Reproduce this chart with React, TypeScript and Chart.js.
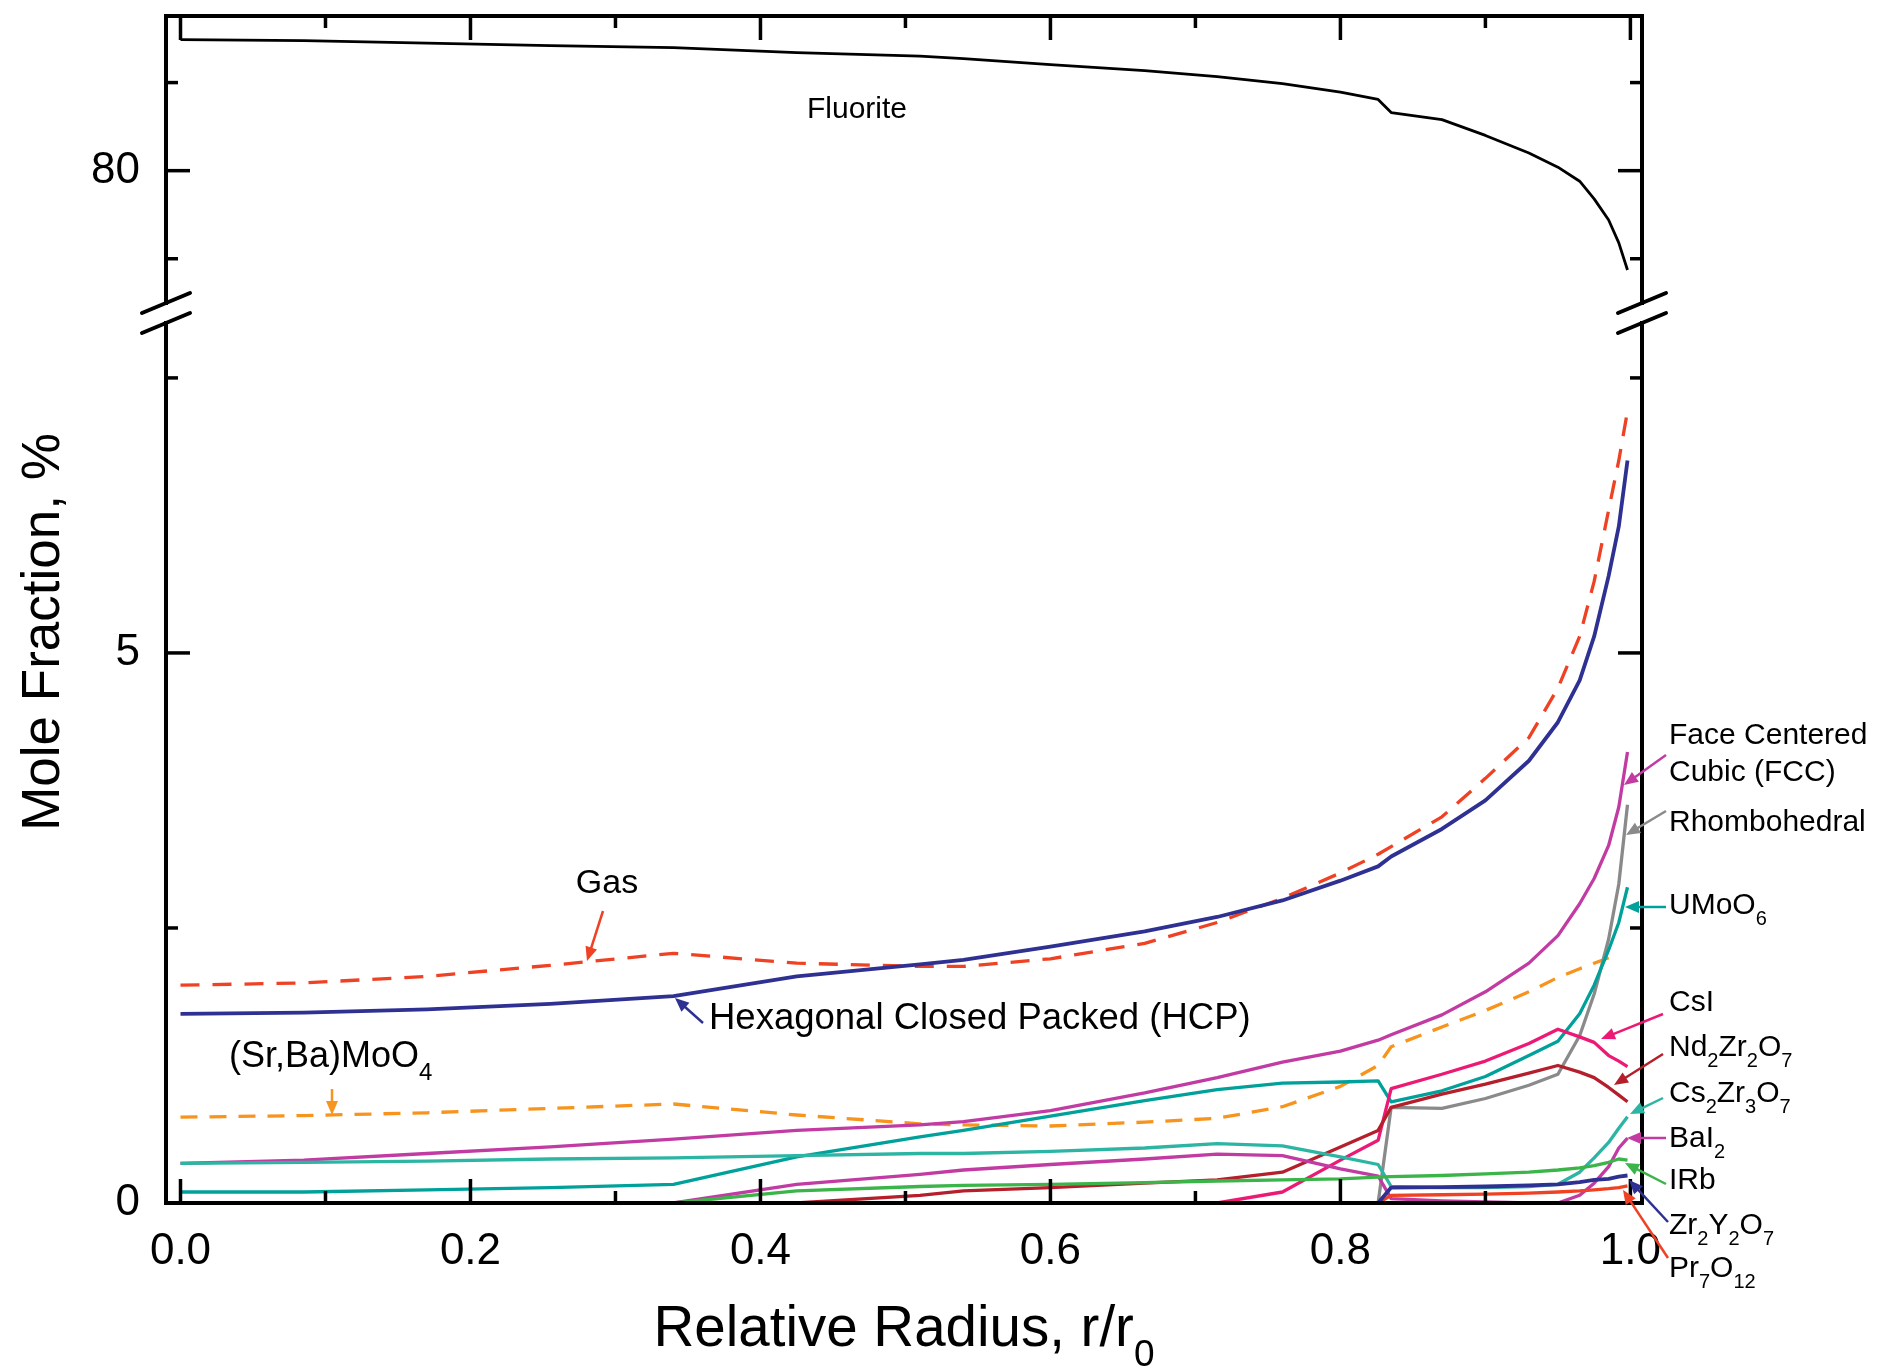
import React, { useEffect, useRef } from 'react';
import { Chart, registerables } from 'chart.js';

Chart.register(...registerables);

// ---------- data ----------
const radius = [0, 0.085, 0.17, 0.255, 0.34, 0.425, 0.51, 0.54, 0.6, 0.665, 0.715, 0.76, 0.8, 0.826, 0.835, 0.87, 0.9, 0.93, 0.95, 0.965, 0.975, 0.985, 0.992, 0.998];

const fluorite = [83.72, 83.69, 83.62, 83.55, 83.49, 83.35, 83.25, 83.18, 83.01, 82.84, 82.67, 82.47, 82.23, 82.02, 81.65, 81.45, 81.0, 80.5, 80.1, 79.7, 79.2, 78.6, 77.95, 77.18];
const hcp = [1.72, 1.73, 1.76, 1.81, 1.88, 2.06, 2.17, 2.21, 2.33, 2.47, 2.6, 2.75, 2.93, 3.06, 3.15, 3.4, 3.66, 4.02, 4.37, 4.75, 5.15, 5.7, 6.15, 6.75];
const gas = [1.98, 2.0, 2.06, 2.16, 2.27, 2.18, 2.15, 2.15, 2.22, 2.36, 2.55, 2.77, 3.0, 3.17, 3.24, 3.51, 3.86, 4.23, 4.68, 5.15, 5.65, 6.3, 6.75, 7.2];
const srBaMoO4 = [0.78, 0.795, 0.82, 0.86, 0.9, 0.8, 0.72, 0.71, 0.7, 0.735, 0.77, 0.875, 1.06, 1.25, 1.42, 1.6, 1.75, 1.92, 2.05, 2.13, 2.18, 2.23, null, null];
const fcc = [0.36, 0.39, 0.45, 0.51, 0.58, 0.66, 0.71, 0.74, 0.84, 1.0, 1.14, 1.28, 1.38, 1.48, 1.53, 1.71, 1.92, 2.18, 2.43, 2.72, 2.95, 3.25, 3.6, 4.1];
const rhombohedral = [0, 0, 0, 0, 0, 0, 0, 0, 0, 0, 0, 0, 0, 0, 0.87, 0.86, 0.95, 1.07, 1.17, 1.52, 1.9, 2.4, 2.9, 3.62];
const uMoO6 = [0.1, 0.1, 0.12, 0.14, 0.17, 0.42, 0.6, 0.66, 0.79, 0.93, 1.03, 1.09, 1.1, 1.11, 0.92, 1.02, 1.15, 1.34, 1.47, 1.72, 1.98, 2.3, 2.55, 2.87];
const cs2Zr3O7 = [0.36, 0.37, 0.38, 0.4, 0.41, 0.43, 0.45, 0.45, 0.47, 0.5, 0.54, 0.52, 0.42, 0.35, 0.15, 0.14, 0.14, 0.15, 0.17, 0.28, 0.41, 0.55, 0.68, 0.785];
const baI2 = [0, 0, 0, 0, 0, 0.17, 0.26, 0.3, 0.35, 0.4, 0.445, 0.43, 0.31, 0.245, 0.04, 0.02, 0.01, 0, 0, 0.07, 0.18, 0.33, 0.5, 0.59];
const iRb = [0, 0, 0, 0, 0, 0.11, 0.15, 0.16, 0.17, 0.185, 0.2, 0.21, 0.22, 0.235, 0.24, 0.25, 0.265, 0.28, 0.3, 0.32, 0.34, 0.37, 0.4, 0.39];
const nd2Zr2O7 = [0, 0, 0, 0, 0, 0, 0.07, 0.11, 0.14, 0.18, 0.21, 0.28, 0.51, 0.66, 0.87, 0.99, 1.08, 1.18, 1.25, 1.19, 1.14, 1.05, 0.98, 0.92];
const csI = [0, 0, 0, 0, 0, 0, 0, 0, 0, 0, 0, 0.1, 0.39, 0.57, 1.04, 1.17, 1.29, 1.45, 1.58, 1.51, 1.46, 1.34, 1.29, 1.24];
const zr2Y2O7 = [0, 0, 0, 0, 0, 0, 0, 0, 0, 0, 0, 0, 0, 0, 0.14, 0.145, 0.15, 0.16, 0.17, 0.19, 0.21, 0.22, 0.24, 0.25];
const pr7O12 = [0, 0, 0, 0, 0, 0, 0, 0, 0, 0, 0, 0, 0, 0, 0.07, 0.075, 0.08, 0.09, 0.1, 0.11, 0.12, 0.13, 0.14, 0.155];

const xTickLabels = ['0.0', '0.2', '0.4', '0.6', '0.8', '1.0'];
const yTickLabels = ['0', '5', '80'];

// ---------- styles ----------
const FONT = "'Liberation Sans', Arial, Helvetica, sans-serif";
const C = {
  navy: '#2e3192',
  red: '#ef4123',
  orange: '#f7941d',
  magenta: '#c13ba3',
  gray: '#8a8a8a',
  teal: '#00a19a',
  lteal: '#2cb5a3',
  pink: '#ec1a75',
  dred: '#b41f2b',
  green: '#3bb449',
};

const pts = (ys: (number | null)[]) => radius.map((x, i) => ({ x, y: ys[i] }));

function drawRich(ctx: CanvasRenderingContext2D, text: string, x: number, y: number, size: number, align: 'left' | 'center' = 'left', color = '#000') {
  const runs: { t: string; sub: boolean }[] = [];
  const re = /(\d+)|([^\d]+)/g;
  let m: RegExpExecArray | null;
  while ((m = re.exec(text))) runs.push({ t: m[0], sub: !!m[1] });
  const subSize = Math.round(size * 0.66);
  let total = 0;
  for (const r of runs) {
    ctx.font = `${r.sub ? subSize : size}px ${FONT}`;
    total += ctx.measureText(r.t).width;
  }
  let cx = align === 'center' ? x - total / 2 : x;
  ctx.fillStyle = color;
  ctx.textAlign = 'left';
  ctx.textBaseline = 'middle';
  for (const r of runs) {
    ctx.font = `${r.sub ? subSize : size}px ${FONT}`;
    ctx.fillText(r.t, cx, r.sub ? y + size * 0.45 : y);
    cx += ctx.measureText(r.t).width;
  }
}

function arrow(ctx: CanvasRenderingContext2D, x1: number, y1: number, x2: number, y2: number, color: string) {
  const ang = Math.atan2(y2 - y1, x2 - x1);
  const hl = 14, hw = 6;
  ctx.strokeStyle = color;
  ctx.fillStyle = color;
  ctx.lineWidth = 2.5;
  ctx.beginPath();
  ctx.moveTo(x1, y1);
  ctx.lineTo(x2 - Math.cos(ang) * hl * 0.8, y2 - Math.sin(ang) * hl * 0.8);
  ctx.stroke();
  ctx.beginPath();
  ctx.moveTo(x2, y2);
  ctx.lineTo(x2 - Math.cos(ang) * hl + Math.sin(ang) * hw, y2 - Math.sin(ang) * hl - Math.cos(ang) * hw);
  ctx.lineTo(x2 - Math.cos(ang) * hl - Math.sin(ang) * hw, y2 - Math.sin(ang) * hl + Math.cos(ang) * hw);
  ctx.closePath();
  ctx.fill();
}

const labels: [string, number, number, number, 'left' | 'center'][] = [
  ['Fluorite', 857, 110, 30, 'center'],
  ['Gas', 607, 884, 34, 'center'],
  ['Hexagonal Closed Packed (HCP)', 709, 1019, 36.5, 'left'],
  ['(Sr,Ba)MoO4', 229, 1057, 36, 'left'],
  ['Face Centered', 1669, 736, 30, 'left'],
  ['Cubic (FCC)', 1669, 773, 30, 'left'],
  ['Rhombohedral', 1669, 823, 30, 'left'],
  ['UMoO6', 1669, 906, 30, 'left'],
  ['CsI', 1669, 1003, 30, 'left'],
  ['Nd2Zr2O7', 1669, 1048, 30, 'left'],
  ['Cs2Zr3O7', 1669, 1094, 30, 'left'],
  ['BaI2', 1669, 1139, 30, 'left'],
  ['IRb', 1669, 1181, 30, 'left'],
  ['Zr2Y2O7', 1669, 1226, 30, 'left'],
  ['Pr7O12', 1669, 1269, 30, 'left'],
];

const arrows: [string, number, number, number, number][] = [
  [C.magenta, 1666, 755, 1624, 785],
  [C.gray, 1666, 811, 1626, 835],
  [C.teal, 1666, 907, 1625, 907],
  [C.pink, 1663, 1014, 1601, 1039],
  [C.dred, 1663, 1054, 1614, 1085],
  [C.lteal, 1663, 1098, 1630, 1114],
  [C.magenta, 1666, 1138, 1627, 1138],
  [C.green, 1666, 1184, 1625, 1163],
  [C.navy, 1668, 1222, 1629, 1180],
  [C.red, 1668, 1258, 1623, 1190],
  [C.red, 603, 911, 587, 961],
  [C.navy, 703, 1023, 675, 998],
  [C.orange, 332, 1089, 332, 1115],
];

const decorPlugin = {
  id: 'decor',
  afterDraw(chart: any) {
    const { ctx, chartArea: ca } = chart;
    const xs = chart.scales.x, yl = chart.scales.y, yu = chart.scales.yTop;
    const L = ca.left, R = ca.right, T = ca.top, B = ca.bottom;
    const yb = yl.top;
    const line = (a: number, b: number, c: number, d: number) => {
      ctx.beginPath(); ctx.moveTo(a, b); ctx.lineTo(c, d); ctx.stroke();
    };
    ctx.save();
    ctx.strokeStyle = '#000';
    ctx.lineCap = 'butt';
    ctx.lineWidth = 3.5;
    const MAJ = 24, MIN = 12;
    for (const t of xs.ticks) {
      const px = xs.getPixelForValue(t.value);
      const len = t.label ? MAJ : MIN;
      line(px, B, px, B - len);
      line(px, T, px, T + len);
    }
    for (const sc of [yl, yu]) {
      for (const t of sc.ticks) {
        const py = sc.getPixelForValue(t.value);
        if (Math.abs(py - B) < 3) continue;
        const len = t.label ? MAJ : MIN;
        line(L, py, L + len, py);
        line(R, py, R - len, py);
      }
    }
    ctx.lineWidth = 4;
    ctx.lineCap = 'square';
    line(L, T, R, T);
    line(L, B, R, B);
    line(L, T, L, yb - 10);
    line(L, yb + 10, L, B);
    line(R, T, R, yb - 10);
    line(R, yb + 10, R, B);
    ctx.lineCap = 'round';
    for (const ax of [L, R]) {
      for (const c of [yb - 10, yb + 10]) line(ax - 24, c + 10, ax + 24, c - 10);
    }
    for (const [t, x, y, s, a] of labels) drawRich(ctx, t, x, y, s, a);
    ctx.lineCap = 'butt';
    for (const [col, x1, y1, x2, y2] of arrows) arrow(ctx, x1, y1, x2, y2, col);
    // axis titles
    drawRich(ctx, 'Relative Radius, r/r0', (L + R) / 2, 1330, 56.5, 'center');
    ctx.save();
    ctx.translate(44, 632);
    ctx.rotate(-Math.PI / 2);
    drawRich(ctx, 'Mole Fraction, %', 0, 0, 53, 'center');
    ctx.restore();
    ctx.restore();
  },
};

const ds = (label: string, ys: (number | null)[], color: string, width = 3.3, dash: number[] = [], yAxisID = 'y') => ({
  label,
  data: pts(ys),
  borderColor: color,
  backgroundColor: color,
  borderWidth: width,
  borderDash: dash,
  borderJoinStyle: 'round',
  pointRadius: 0,
  tension: 0,
  fill: false,
  yAxisID,
});

const noPad = (s: any) => {
  s.paddingTop = 0;
  s.paddingBottom = 0;
  s.paddingLeft = 0;
  s.paddingRight = 0;
};

export default function App() {
  const ref = useRef<HTMLCanvasElement | null>(null);
  useEffect(() => {
    document.body.style.margin = '0';
    if (!ref.current) return;
    const tickFont = { family: FONT, size: 44 };
    const yTicks = {
      stepSize: 2.5,
      includeBounds: false,
      padding: 26,
      color: '#000',
      font: tickFont,
      callback: (v: any) => (yTickLabels.includes(String(v)) ? String(v) : ''),
    };
    const chart = new Chart(ref.current, {
      type: 'line',
      data: {
        datasets: [
          ds('Zr2Y2O7', zr2Y2O7, C.navy, 3.8),
          ds('Pr7O12', pr7O12, C.red),
          ds('IRb', iRb, C.green),
          ds('BaI2', baI2, C.magenta),
          ds('Cs2Zr3O7', cs2Zr3O7, C.lteal),
          ds('Nd2Zr2O7', nd2Zr2O7, C.dred),
          ds('CsI', csI, C.pink),
          ds('UMoO6', uMoO6, C.teal),
          ds('Rhombohedral', rhombohedral, C.gray),
          ds('FCC', fcc, C.magenta),
          ds('(Sr,Ba)MoO4', srBaMoO4, C.orange, 3.3, [17, 12]),
          ds('HCP', hcp, C.navy, 3.8),
          ds('Gas', gas, C.red, 3.3, [19, 13]),
          ds('Fluorite', fluorite, '#000', 2.8, [], 'yTop'),
        ],
      },
      options: {
        responsive: false,
        animation: false,
        events: [],
        layout: { padding: { left: 0, right: 237, top: 16, bottom: 0 } },
        plugins: { legend: { display: false }, tooltip: { enabled: false }, title: { display: false } },
        scales: {
          x: {
            type: 'linear',
            min: -0.01,
            max: 1.008,
            afterFit: (s: any) => { s.height = 168; noPad(s); },
            grid: { display: false, drawTicks: false },
            border: { display: false },
            ticks: {
              stepSize: 0.1,
              autoSkip: false,
              maxRotation: 0,
              includeBounds: false,
              padding: 22,
              color: '#000',
              font: tickFont,
              callback: (v: any) => {
                const s = Number(v).toFixed(1);
                return xTickLabels.includes(s) ? s : '';
              },
            },
          },
          y: {
            type: 'linear',
            position: 'left',
            stack: 'mole',
            stackWeight: 890,
            min: 0,
            max: 8.09,
            afterFit: (s: any) => { s.width = 166; noPad(s); },
            grid: { display: false, drawTicks: false },
            border: { display: false },
            ticks: yTicks,
          },
          yTop: {
            type: 'linear',
            position: 'left',
            stack: 'mole',
            stackWeight: 297,
            min: 75.96,
            max: 84.39,
            afterFit: (s: any) => { s.width = 166; noPad(s); },
            grid: { display: false, drawTicks: false },
            border: { display: false },
            ticks: yTicks,
          },
        },
      },
      plugins: [decorPlugin],
    } as any);
    return () => chart.destroy();
  }, []);
  return (
    <div style={{ width: 1879, height: 1371, background: '#fff' }}>
      <canvas ref={ref} width={1879} height={1371} style={{ display: 'block' }} />
    </div>
  );
}
